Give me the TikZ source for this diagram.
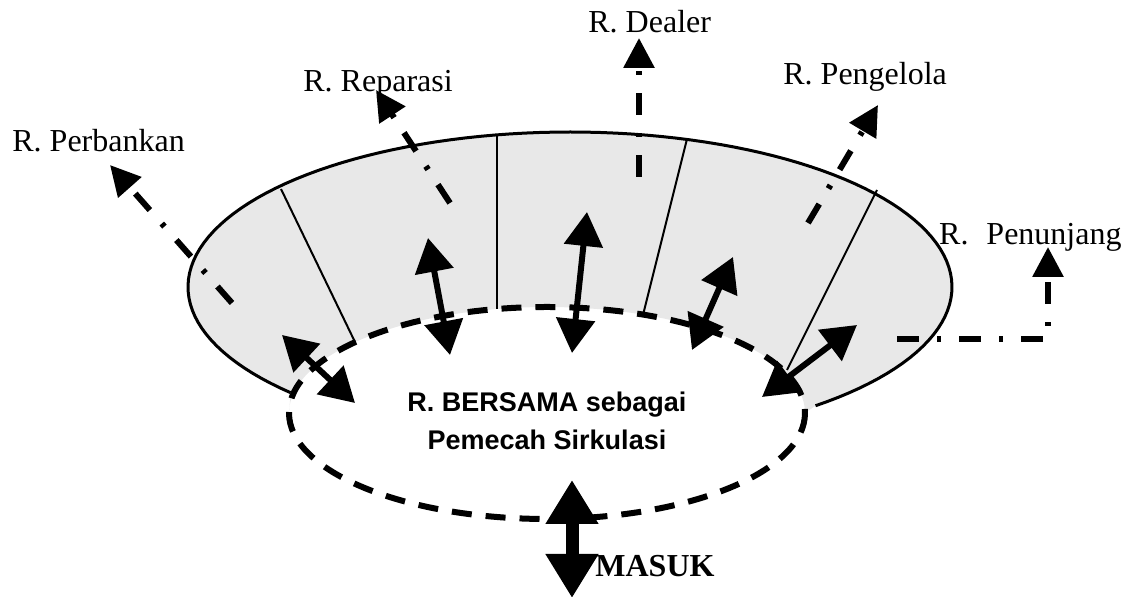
\documentclass[tikz,border=0pt]{standalone}
\usepackage{fontspec}
\setmainfont{Liberation Serif}
\setsansfont{Liberation Sans}
\usetikzlibrary{arrows.meta}

\begin{document}
\begin{tikzpicture}[x=0.5pt,y=-0.5pt,
  every node/.style={inner sep=0pt},
  lbl/.style={anchor=base west,font=\fontsize{16}{19}\selectfont},
  wall/.style={line width=1.5pt},
  part/.style={line width=1pt},
  ring/.style={line width=3pt,dash pattern=on 10pt off 7pt},
  door/.style={{Triangle[length=17pt,width=19pt]}-{Triangle[length=17pt,width=19pt]},line width=3pt},
  route/.style={-{Triangle[length=15pt,width=15pt]},line width=3pt,dash pattern=on 11pt off 9pt on 2pt off 9pt},
  entry/.style={{Triangle[length=22pt,width=25pt]}-{Triangle[length=22pt,width=25pt]},line width=6.5pt}]
 \useasboundingbox (0,0) rectangle (1126,597);
 \fill[black!9] plot[domain=137:410,samples=120] ({570+382*cos(\x)},{287+155*sin(\x)})
   -- plot[domain=360:180,samples=90] ({547+258*cos(\x)},{413+106*sin(\x)}) -- cycle;
 \draw[wall] plot[domain=137:410,samples=120] ({570+382*cos(\x)},{287+155*sin(\x)});
 \draw[ring] (547,413) ellipse [x radius=258, y radius=106];
 \draw[part] (281,189) -- (355,342);
 \draw[part] (497,135) -- (497,309);
 \draw[part] (687,139) -- (643,315);
 \draw[part] (877,190) -- (787,370);

 \node[lbl] (per) at (12,152)  {R. Perbankan};
 \node[lbl] (rep) at (303,92)  {R. Reparasi};
 \node[lbl] (dea) at (588,33)  {R. Dealer};
 \node[lbl] (pgl) at (783,85)  {R. Pengelola};
 \node[lbl,anchor=base east] (pnj) at (1122,245) {R.\hspace{9pt}Penunjang};
 \node[font=\sffamily\bfseries\fontsize{13.5}{19}\selectfont,align=center] (mid) at (547,421)
   {R. BERSAMA sebagai\\Pemecah Sirkulasi};
 \node[lbl,font=\bfseries\fontsize{16}{19}\selectfont] (msk) at (595,577) {MASUK};

 \coordinate (perA) at (232,303);  \coordinate (perB) at (110,165);
 \coordinate (repA) at (450,203);  \coordinate (repB) at (376,90);
 \coordinate (deaA) at (639,177);  \coordinate (deaB) at (639,38);
 \coordinate (pglA) at (808,223);  \coordinate (pglB) at (878,105);
 \coordinate (pnjA) at (897,339);  \coordinate (pnjK) at (1048,339);  \coordinate (pnjB) at (1048,247);
 \draw[route] (perA) -- (perB);
 \draw[route] (repA) -- (repB);
 \draw[route] (deaA) -- (deaB);
 \draw[route] (pglA) -- (pglB);
 \draw[route] (pnjA) -- (pnjK) -- (pnjB);

 \coordinate (d1a) at (282,335);  \coordinate (d1b) at (355,403);
 \coordinate (d2a) at (428,238);  \coordinate (d2b) at (450,355);
 \coordinate (d3a) at (587,212);  \coordinate (d3b) at (572,353);
 \coordinate (d4a) at (733,257);  \coordinate (d4b) at (692,350);
 \coordinate (d5a) at (857,325);  \coordinate (d5b) at (762,397);
 \coordinate (inA) at (572,480);  \coordinate (inB) at (572,598);
 \draw[door] (d1a) -- (d1b);
 \draw[door] (d2a) -- (d2b);
 \draw[door] (d3a) -- (d3b);
 \draw[door] (d4a) -- (d4b);
 \draw[door] (d5a) -- (d5b);
 \draw[entry] (inA) -- (inB);
\end{tikzpicture}
\end{document}
